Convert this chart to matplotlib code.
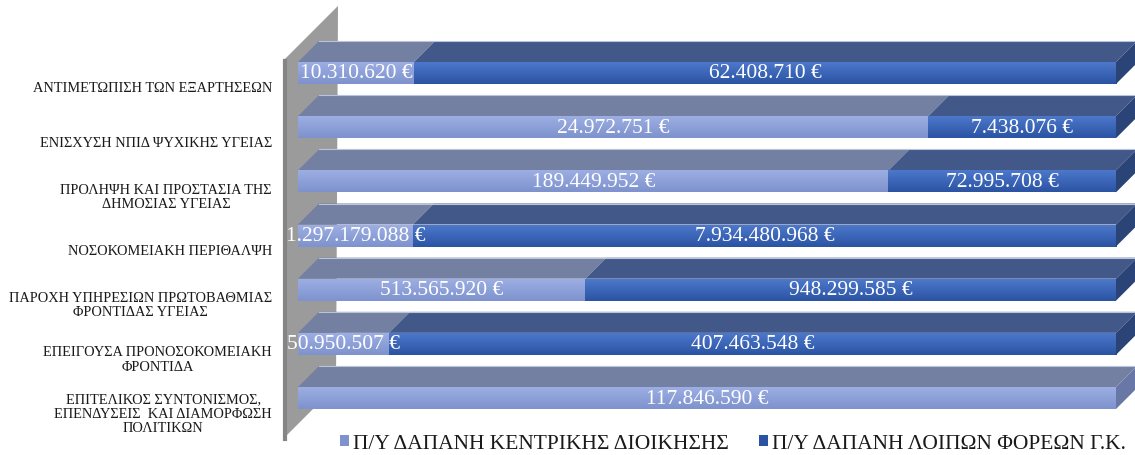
import numpy as np
import matplotlib
matplotlib.use('Agg')
import matplotlib.pyplot as plt
from matplotlib.patches import Polygon, Patch
from matplotlib.colors import LinearSegmentedColormap

plt.rcParams['font.family'] = ['Liberation Serif', 'DejaVu Serif']

categories = ['ΑΝΤΙΜΕΤΩΠΙΣΗ ΤΩΝ ΕΞΑΡΤΗΣΕΩΝ',
              'ΕΝΙΣΧΥΣΗ ΝΠΙΔ ΨΥΧΙΚΗΣ ΥΓΕΙΑΣ',
              'ΠΡΟΛΗΨΗ ΚΑΙ ΠΡΟΣΤΑΣΙΑ ΤΗΣ\nΔΗΜΟΣΙΑΣ ΥΓΕΙΑΣ',
              'ΝΟΣΟΚΟΜΕΙΑΚΗ ΠΕΡΙΘΑΛΨΗ',
              'ΠΑΡΟΧΗ ΥΠΗΡΕΣΙΩΝ ΠΡΩΤΟΒΑΘΜΙΑΣ\nΦΡΟΝΤΙΔΑΣ ΥΓΕΙΑΣ',
              'ΕΠΕΙΓΟΥΣΑ ΠΡΟΝΟΣΟΚΟΜΕΙΑΚΗ\nΦΡΟΝΤΙΔΑ',
              'ΕΠΙΤΕΛΙΚΟΣ ΣΥΝΤΟΝΙΣΜΟΣ,\nΕΠΕΝΔΥΣΕΙΣ  ΚΑΙ ΔΙΑΜΟΡΦΩΣΗ\nΠΟΛΙΤΙΚΩΝ']
central = [10310620, 24972751, 189449952, 1297179088, 513565920, 50950507, 117846590]
others = [62408710, 7438076, 72995708, 7934480968, 948299585, 407463548, 0]
series_names = ['Π/Υ ΔΑΠΑΝΗ ΚΕΝΤΡΙΚΗΣ ΔΙΟΙΚΗΣΗΣ', 'Π/Υ ΔΑΠΑΝΗ ΛΟΙΠΩΝ ΦΟΡΕΩΝ Γ.Κ.']

# colours: front gradient (top, bottom), top face, side face
light = dict(front=('#9CAEE3', '#7E92CD'), top='#7480A1', side='#6877A6')
dark = dict(front=('#4C78CB', '#2B53A3'), top='#425888', side='#2B4478')

W, H = 1135, 456
fig = plt.figure(figsize=(W / 100, H / 100), dpi=100)
ax = fig.add_axes([283 / W, 0, 818 / W, 1])
pitch = 54.17
ax.axis('off')

UX, UY = 1 / 818, 1 / pitch   # one pixel of depth in data units
D0, D1 = 15, 36               # bar depth range
HALF = 11 / pitch             # half height of the bar front


def proj(x, r, d):
    return (x + d * UX, r - d * UY)


def face(pts, color, z):
    ax.add_patch(Polygon([proj(*p) for p in pts], closed=True, facecolor=color,
                         edgecolor='none', zorder=z, clip_on=False))


# side wall
rt, rb = -0.5, 6.48
face([(0, rt, 0), (0, rt, 55), (0, rb, 53), (0, rb, 0)], '#9B9B9B', 1)
wx = [proj(0, rt, 0)[0] + 2 * UX] * 2
ax.plot(wx, [rt, rb], color='#858585', lw=3, zorder=1.5, clip_on=False)

totals = np.array(central) + np.array(others)
for r, (c, o, t) in enumerate(zip(central, others, totals)):
    segs = [(0, c / t, c, light), (c / t, 1, o, dark)]
    segs = [s for s in segs if s[2] > 0]
    for i, (x0, x1, v, st) in enumerate(segs):
        top, bot = r - HALF, r + HALF
        face([(x0, top, D0), (x1, top, D0), (x1, top, D1), (x0, top, D1)], st['top'], 2)
        fx0, fy0 = proj(x0, bot, D0)
        fx1, fy1 = proj(x1, top, D0)
        cmap = LinearSegmentedColormap.from_list('g', [st['front'][0], st['front'][1]])
        ax.imshow(np.linspace(0, 1, 50).reshape(-1, 1), cmap=cmap, aspect='auto',
                  extent=[fx0, fx1, fy0, fy1], origin='upper', zorder=3, clip_on=False,
                  interpolation='bilinear')
        if i == len(segs) - 1:
            face([(x1, top, D0), (x1, top, D1), (x1, bot, D1), (x1, bot, D0)], st['side'], 3)
        lbl = f'{v:,}'.replace(',', '.') + ' €'
        ax.text((fx0 + fx1) / 2, r - D0 * UY, lbl, color='white', fontsize=15.5,
                ha='center', va='center', zorder=5, clip_on=False)
    # thin highlight along the back edge of the top face
    bx0, by = proj(0, r - HALF, D1)
    bx1, _ = proj(1, r - HALF, D1)
    ax.plot([bx0, bx1], [by, by], color='#B9C3DC', lw=0.8, zorder=2.5, clip_on=False)

ax.set_xlim(0, 1)
ax.set_ylim((H - 89) / pitch, -89 / pitch)

for r, name in enumerate(categories):
    ax.text(-11 / 818, r, name, ha='right', va='center', multialignment='center',
            fontsize=10.4, linespacing=1.15, color='#1a1a1a', clip_on=False)

handles = [Patch(facecolor=light['front'][1]), Patch(facecolor=dark['front'][1])]
fig.legend(handles, series_names, loc='center', bbox_to_anchor=(733 / W, 1 - 445 / H),
           ncol=2, frameon=False, fontsize=15.5, handlelength=0.42, handleheight=0.42,
           handletextpad=0.2, columnspacing=1.4, labelcolor='#1a1a1a',
           borderpad=0, borderaxespad=0)

fig.savefig('out.png', dpi=100)
